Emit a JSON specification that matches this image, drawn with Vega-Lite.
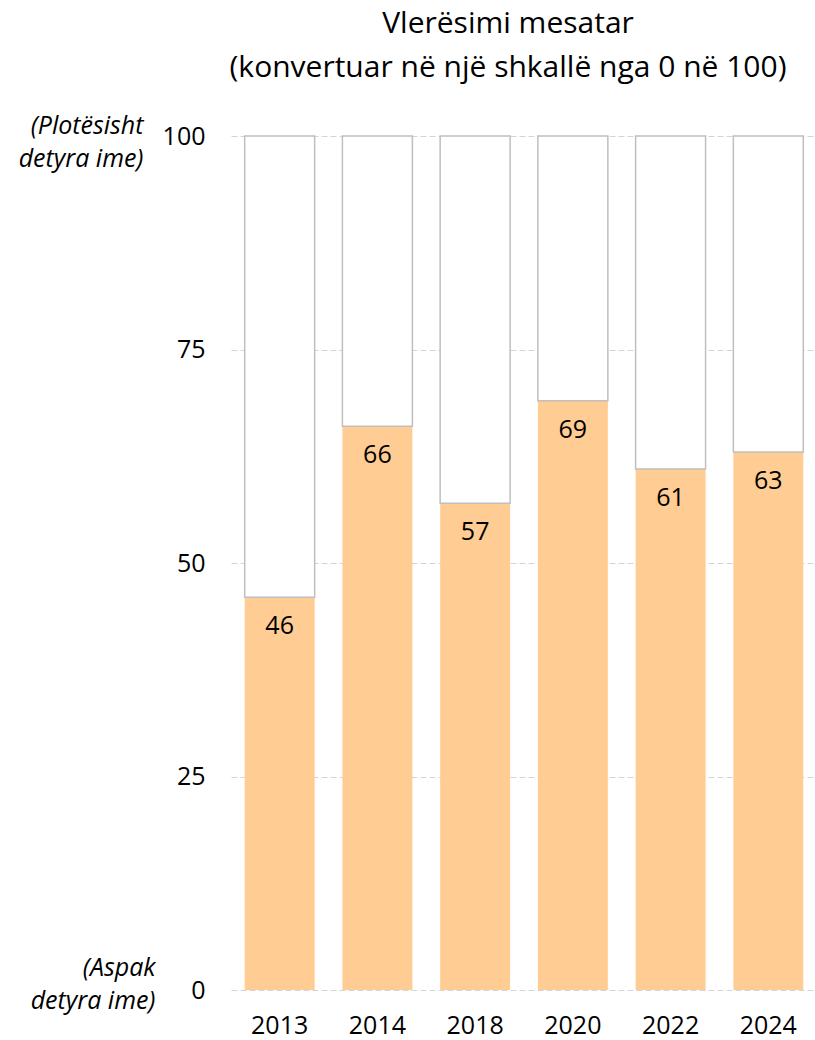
{
  "$schema": "https://vega.github.io/schema/vega-lite/v6.json",
  "width": 586,
  "height": 854,
  "autosize": "none",
  "padding": {"left": 231, "top": 136, "right": 0, "bottom": 50},
  "background": "white",
  "config": {"font": "Open Sans", "view": {"stroke": null}},
  "title": {
    "text": ["Vlerësimi mesatar", "(konvertuar në një shkallë nga 0 në 100)"],
    "fontSize": 30,
    "fontWeight": "normal",
    "color": "#000000",
    "lineHeight": 44,
    "anchor": "middle",
    "dx": -16,
    "offset": 30
  },
  "data": {
    "values": [
      {"year": "2013", "value": 46},
      {"year": "2014", "value": 66},
      {"year": "2018", "value": 57},
      {"year": "2020", "value": 69},
      {"year": "2022", "value": 61},
      {"year": "2024", "value": 63}
    ]
  },
  "encoding": {
    "x": {
      "field": "year",
      "type": "nominal",
      "sort": null,
      "scale": {"paddingInner": 0.284, "paddingOuter": 0.14},
      "axis": {
        "title": null,
        "domain": false,
        "ticks": false,
        "labelAngle": 0,
        "labelFontSize": 25,
        "labelPadding": 23,
        "labelColor": "#000000"
      }
    }
  },
  "layer": [
    {
      "mark": {"type": "bar", "fill": "#FFCC93"},
      "encoding": {
        "y": {
          "field": "value",
          "type": "quantitative",
          "scale": {"domain": [0, 100]},
          "axis": {
            "title": null,
            "values": [0, 25, 50, 75, 100],
            "domain": false,
            "ticks": false,
            "grid": true,
            "gridDash": [6, 3],
            "gridColor": "#d4d4d4",
            "gridWidth": 1,
            "labelFontSize": 25,
            "labelPadding": 26,
            "labelColor": "#000000"
          }
        }
      }
    },
    {
      "mark": {"type": "bar", "fill": "white", "stroke": "#bfbfbf", "strokeWidth": 1.5},
      "encoding": {
        "y": {"field": "value", "type": "quantitative", "axis": null},
        "y2": {"datum": 100}
      }
    },
    {
      "mark": {"type": "text", "baseline": "top", "dy": 17, "fontSize": 25, "color": "#000000"},
      "encoding": {
        "y": {
          "field": "value",
          "type": "quantitative",
          "axis": {
            "orient": "left",
            "title": null,
            "values": [0, 100],
            "labelExpr": "datum.value == 100 ? ['(Plotësisht', 'detyra ime)'] : ['(Aspak', 'detyra ime)']",
            "labelFontStyle": "italic",
            "labelFontSize": 25,
            "labelLineHeight": 33,
            "labelAlign": "right",
            "labelBaseline": "middle",
            "labelPadding": {"condition": {"test": "datum.value == 0", "value": 76}, "value": 88},
            "labelOffset": {"condition": {"test": "datum.value == 0", "value": -23}, "value": -11},
            "labelFlush": false,
            "labelOverlap": false,
            "ticks": false,
            "domain": false,
            "grid": false,
            "labelColor": "#000000"
          }
        },
        "text": {"field": "value", "type": "quantitative"}
      }
    }
  ],
  "resolve": {"axis": {"y": "independent"}}
}
